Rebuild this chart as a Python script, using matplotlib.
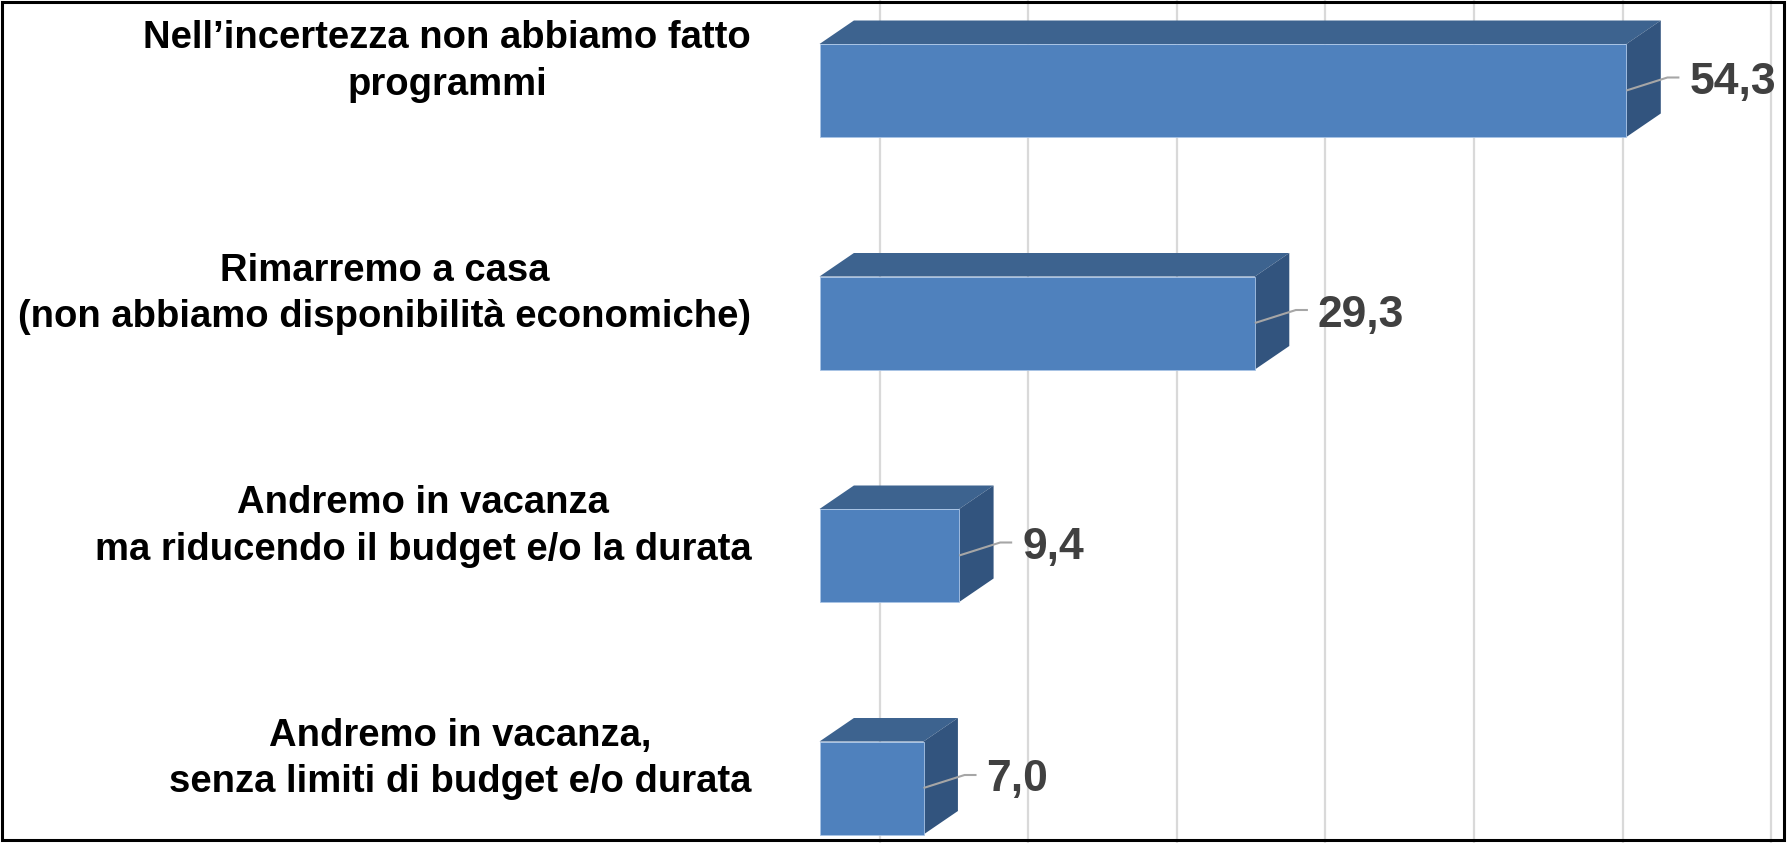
import matplotlib.pyplot as plt
from matplotlib.patches import Polygon, Rectangle

categories = [
    'Nell\u2019incertezza non abbiamo fatto\nprogrammi',
    'Rimarremo a casa\n(non abbiamo disponibilità economiche)',
    'Andremo in vacanza\nma riducendo il budget e/o la durata',
    'Andremo in vacanza,\nsenza limiti di budget e/o durata',
]
values = [54.3, 29.3, 9.4, 7.0]
value_labels = ['54,3', '29,3', '9,4', '7,0']

front_color = '#4F81BD'
top_color = '#3D638F'
side_color = '#32547E'
grid_color = '#D9D9D9'
label_color = '#404040'

plt.rcParams['font.family'] = ['Liberation Sans', 'DejaVu Sans']

W, H = 1787, 843
x0_px = 819.5       # where value 0 sits (front face)
px_per_unit = 14.86
row_px = 232.5      # distance between bars
first_row_px = 90.5

bar_h = 0.4
dx = 34.4 / px_per_unit   # 3d depth, to the right
dy = 23.5 / row_px        # 3d depth, upwards

fig = plt.figure(figsize=(W / 100, H / 100), dpi=100)
ax = fig.add_axes([0, 0, 1, 1])
ax.set_xlim(-x0_px / px_per_unit, (W - x0_px) / px_per_unit)
ax.set_ylim((H - first_row_px) / row_px, -first_row_px / row_px)
ax.axis('off')

# gridlines drawn on the back wall
for g in range(7):
    ax.axvline(4.05 + 10 * g, color=grid_color, lw=1.6, zorder=0)

ypos = list(range(len(values)))
ax.barh(ypos, values, height=bar_h, left=0, color=front_color,
        edgecolor='#A9C4E6', linewidth=0.6, zorder=3)

for y, v, lab in zip(ypos, values, value_labels):
    top = y - bar_h / 2
    bot = y + bar_h / 2
    ax.add_patch(Polygon([(0, top), (v, top), (v + dx, top - dy), (dx, top - dy)],
                         closed=True, facecolor=top_color, edgecolor='none', zorder=2))
    ax.add_patch(Polygon([(v, top), (v + dx, top - dy), (v + dx, bot - dy), (v, bot)],
                         closed=True, facecolor=side_color, edgecolor='none', zorder=2))
    # leader line
    kx = v + 41 / px_per_unit
    ky = y - 13 / row_px
    ax.plot([v, kx, v + 53 / px_per_unit], [y, ky, ky], color='#A6A6A6', lw=1.5,
            solid_capstyle='butt', zorder=4)
    ax.text(v + 63 / px_per_unit, y - 8 / row_px, lab, ha='left', va='center',
            fontsize=32, fontweight='bold', color=label_color, zorder=5)

for y, cat in zip(ypos, categories):
    ax.text(-4.6, y - 29 / row_px, cat, ha='right', va='center', multialignment='center',
            fontsize=27.5, fontweight='bold', color='black', linespacing=1.38)

fig.add_artist(Rectangle((1.5 / W, 3.5 / H), (W - 5) / W, (H - 5) / H,
                         transform=fig.transFigure, fill=False, edgecolor='black',
                         linewidth=2.2))

plt.savefig('out.png', dpi=100)
